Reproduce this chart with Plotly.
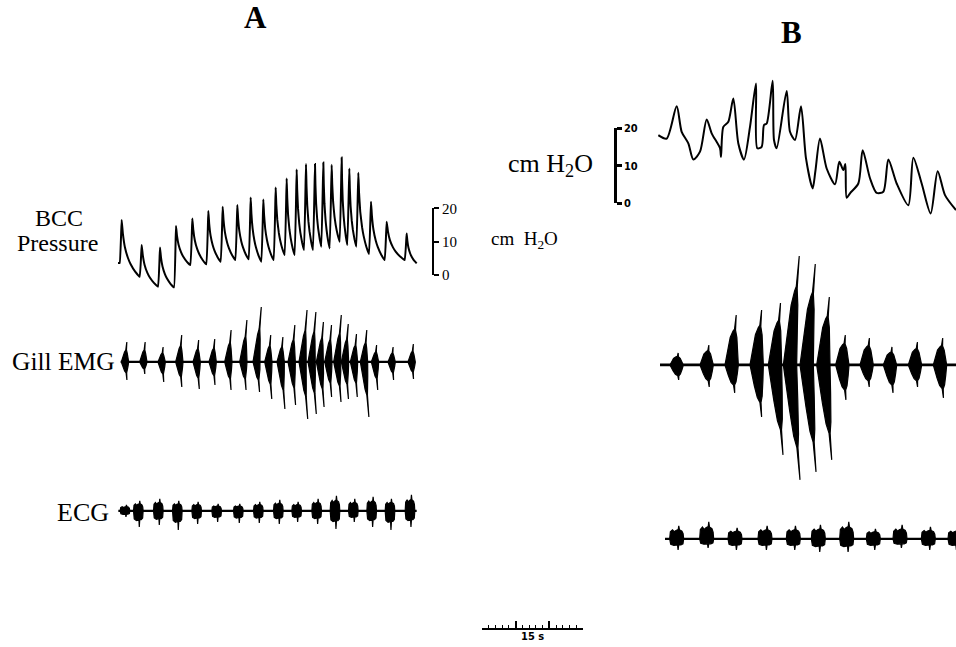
import plotly.graph_objects as go

W, H = 956, 647

# ======================= DATA =======================
# Panel A - buccal cavity (BCC) pressure, cm H2O
a_peak_t = [0.55, 3.55, 6.3, 8.7, 11.15, 13.55, 15.7, 17.9, 19.9, 21.8, 23.65, 25.3,
            26.8, 28.2, 29.55, 30.8, 32.05, 33.55, 34.7, 36.05, 37.95, 40.3, 43.3]
a_peak_p = [16.5, 9.0, 8.3, 14.7, 17.0, 19.2, 20.5, 21.0, 23.3, 22.7, 26.3, 29.0,
            31.7, 33.3, 33.3, 33.8, 33.1, 35.3, 32.0, 30.7, 22.0, 16.0, 12.5]
a_trough_p = [3.6, -0.5, -3.5, -3.7, 3.0, 3.2, 4.0, 4.5, 4.7, 4.0, 4.5, 6.0,
              6.0, 7.5, 7.5, 8.5, 8.0, 10.0, 9.0, 8.5, 6.3, 4.5, 4.5]
a_press_start = [0.0, 3.6]
a_press_end = [44.8, 3.5]

# Panel A - gill EMG bursts: time (s), upward / downward deflection (a.u.)
a_emg_t = [1.05, 3.8, 6.55, 9.2, 11.8, 14.2, 16.55, 18.8, 20.8, 22.55, 24.4, 26.05,
           27.7, 29.05, 30.3, 31.55, 32.9, 34.05, 35.4, 36.9, 38.55, 41.05, 44.05]
a_emg_up = [20, 20, 15, 27, 22, 23, 32, 42, 55, 27, 25, 37,
            52, 50, 40, 37, 47, 38, 28, 32, 17, 15, 18]
a_emg_dn = [18, 12, 20, 25, 27, 23, 28, 28, 30, 37, 47, 43,
            57, 52, 45, 35, 40, 37, 35, 55, 28, 18, 17]
a_emg_span = [0.4, 44.55]

# Panel A - ECG beats
a_ecg_t = [1.05, 3.05, 6.05, 8.9, 11.8, 14.8, 18.05, 21.05, 24.05, 26.8, 29.8,
           32.55, 35.3, 38.05, 40.8, 43.8]
a_ecg_up = [6, 10, 12, 10, 9, 7, 7, 9, 11, 9, 12, 15, 12, 14, 12, 16]
a_ecg_dn = [6, 16, 14, 19, 13, 11, 12, 12, 13, 11, 13, 18, 11, 16, 19, 16]
a_ecg_span = [0.05, 44.8]

# Panel B - BCC pressure trace, cm H2O
b_press_t = [0.05, 1.3, 2.8, 3.55, 4.55, 5.3, 6.3, 7.3, 8.05, 9.3, 9.45, 9.8, 10.55,
             11.3, 12.05, 12.9, 13.8, 14.7, 14.9, 15.55, 15.9, 16.3, 17.2, 17.4, 17.8,
             19.3, 19.8, 20.55, 21.45, 22.2, 23.2, 23.6, 24.3, 25.3, 26.55, 27.2, 27.8,
             28.1, 28.3, 28.8, 30.05, 30.7, 31.8, 32.8, 33.8, 34.55, 35.8, 37.55, 38.3,
             39.55, 40.9, 41.95, 43.05, 44.7]
b_press_p = [18.2, 17.3, 25.9, 19.1, 16.0, 11.7, 13.8, 22.4, 18.7, 14.7, 12.4, 20.4, 21.8,
             28.0, 16.0, 11.7, 20.4, 32.0, 14.7, 15.1, 20.9, 21.3, 32.7, 16.9, 14.7,
             30.0, 19.1, 16.9, 25.9, 12.0, 4.0, 8.5, 17.3, 9.3, 5.1, 11.1, 8.9,
             10.5, 1.5, 2.7, 5.3, 14.2, 6.7, 2.8, 3.1, 11.7, 5.3, -0.5, 12.2,
             5.3, -2.7, 8.6, 2.2, -1.8]

# Panel B - gill EMG bursts
b_emg_t = [2.8, 7.3, 11.05, 14.8, 17.55, 19.8, 22.3, 24.8, 27.65, 31.3, 34.8, 38.55, 42.3]
b_emg_up = [12, 20, 50, 55, 62, 109, 101, 68, 30, 27, 18, 23, 27]
b_emg_dn = [15, 22, 28, 52, 90, 115, 107, 95, 35, 22, 28, 22, 33]
b_emg_span = [0.3, 44.7]

# Panel B - ECG beats
b_ecg_t = [2.8, 7.3, 11.55, 16.05, 20.3, 24.05, 28.3, 32.3, 36.3, 40.55, 44.55]
b_ecg_up = [13, 17, 11, 13, 13, 14, 17, 10, 14, 12, 11]
b_ecg_dn = [11, 9, 11, 11, 11, 13, 13, 11, 9, 11, 11]
b_ecg_span = [1.05, 44.7]

pressure_scale_ticks = [0, 10, 20]
time_bar_length = 15          # s
time_bar_major = [5, 10]      # s

# ======================= HELPERS (style / geometry) =======================
SERIF = "Liberation Serif, Times New Roman, serif"
NARROW = "Liberation Sans Narrow, DejaVu Sans Condensed, sans-serif"
INK = "black"

# the captured page is slightly taller than the figure; compensate vertically
V_OFF, V_SCALE = 7.8, 0.9759


def px_x(px):
    return px / W


def px_y(py):
    return 1 - ((py - V_OFF) / V_SCALE) / H


RISE = 0.3
DECAY_F = [0.0, 0.07, 0.18, 0.35, 0.5, 0.75, 1.0]
DECAY_G = [1.0, 0.75, 0.52, 0.33, 0.22, 0.09, 0.0]


def pressure_wave(peak_t, peak_p, trough_p, start, end):
    xs, ys = [start[0]], [start[1]]
    n = len(peak_t)
    for i in range(n):
        tp, pk = peak_t[i], peak_p[i]
        xs += [tp - RISE, tp]
        ys += [trough_p[i], pk]
        if i + 1 < n:
            te, ve = peak_t[i + 1] - RISE, trough_p[i + 1]
        else:
            te, ve = end
        for f, g in zip(DECAY_F[1:-1], DECAY_G[1:-1]):
            xs.append(tp + f * (te - tp))
            ys.append(ve + g * (pk - ve))
    xs.append(end[0])
    ys.append(end[1])
    return xs, ys


EMG_UP = [(-1, 0), (-0.7, 0.3), (-0.35, 0.5), (-0.05, 0.6), (0.06, 1.0), (0.14, 0.6),
          (0.45, 0.42), (0.75, 0.2), (1, 0)]
EMG_DN = [(1, 0), (0.72, -0.25), (0.42, -0.45), (0.22, -0.6), (0.13, -1.0), (0.05, -0.6),
          (-0.3, -0.5), (-0.7, -0.25), (-1, 0)]
# fuller, blockier bursts for the panel-B EMG
EMGB_UP = [(-1, 0), (-0.8, 0.25), (-0.55, 0.55), (-0.2, 0.68), (0.0, 0.72), (0.08, 1.0),
           (0.16, 0.7), (0.45, 0.55), (0.75, 0.3), (1, 0)]
EMGB_DN = [(1, 0), (0.75, -0.3), (0.45, -0.6), (0.2, -0.72), (0.12, -1.0), (0.04, -0.72),
           (-0.3, -0.62), (-0.6, -0.4), (-0.85, -0.2), (-1, 0)]
ECG_UP = [(-1, 0), (-0.9, 0.55), (-0.6, 0.7), (-0.35, 0.55), (-0.1, 0.65), (0.22, 0.72),
          (0.3, 1.0), (0.4, 0.7), (0.75, 0.6), (0.92, 0.4), (1, 0)]
ECG_DN = [(1, 0), (0.9, -0.45), (0.6, -0.55), (0.3, -0.55), (0.2, -1.0), (0.12, -0.55),
          (-0.4, -0.6), (-0.85, -0.5), (-1, 0)]


def bursts(ts, ups, dns, half_w, up_shape, dn_shape, slant=0.0):
    xs, ys = [], []
    for t, u, d in zip(ts, ups, dns):
        for s, f in up_shape:
            xs.append(t + s * half_w + slant * abs(f * u))
            ys.append(f * u)
        for s, f in dn_shape:
            xs.append(t + s * half_w + slant * abs(f * d))
            ys.append(f * d)
        xs.append(None)
        ys.append(None)
    return xs, ys


fig = go.Figure()


def add_line(x, y, xa, ya, width=2.0, shape="linear", smoothing=None):
    line = dict(color=INK, width=width, shape=shape)
    if smoothing is not None:
        line["smoothing"] = smoothing
    fig.add_trace(go.Scatter(x=x, y=y, mode="lines", line=line, xaxis=xa, yaxis=ya,
                             hoverinfo="skip", showlegend=False))


def add_bursts(x, y, xa, ya):
    fig.add_trace(go.Scatter(x=x, y=y, mode="lines", fill="toself", fillcolor=INK,
                             line=dict(color=INK, width=1.2), xaxis=xa, yaxis=ya,
                             hoverinfo="skip", showlegend=False))


# ---- Panel A traces ----
ax, ay = pressure_wave(a_peak_t, a_peak_p, a_trough_p, a_press_start, a_press_end)
add_line(ax, ay, "x", "y", width=2.0, shape="spline", smoothing=0.3)

add_line(a_emg_span, [0, 0], "x2", "y2", width=2.2)
ex, ey = bursts(a_emg_t, a_emg_up, a_emg_dn, 0.55, EMG_UP, EMG_DN, slant=0.012)
add_bursts(ex, ey, "x2", "y2")

add_line(a_ecg_span, [0, 0], "x3", "y3", width=2.2)
cx, cy = bursts(a_ecg_t, a_ecg_up, a_ecg_dn, 0.72, ECG_UP, ECG_DN)
add_bursts(cx, cy, "x3", "y3")

# ---- Panel B traces ----
add_line(b_press_t, b_press_p, "x4", "y4", width=2.0, shape="spline", smoothing=0.75)

add_line(b_emg_span, [0, 0], "x5", "y5", width=2.8)
bx, by = bursts(b_emg_t, b_emg_up, b_emg_dn, 1.0, EMGB_UP, EMGB_DN, slant=0.012)
add_bursts(bx, by, "x5", "y5")

add_line(b_ecg_span, [0, 0], "x6", "y6", width=2.2)
dx, dy = bursts(b_ecg_t, b_ecg_up, b_ecg_dn, 1.05, ECG_UP, ECG_DN)
add_bursts(dx, dy, "x6", "y6")

# ---- invisible anchors for scale-bar axes ----
for xa, ya in [("x", "y7"), ("x4", "y8"), ("x9", "y9")]:
    fig.add_trace(go.Scatter(x=[None], y=[None], xaxis=xa, yaxis=ya, mode="lines",
                             hoverinfo="skip", showlegend=False))

hidden = dict(visible=False, fixedrange=True)

A_X = [px_x(118), px_x(418)]
B_X = [px_x(658), 1.0]
A_SPAN = 45.0
B_SPAN = 44.7

layout_axes = dict(
    # A pressure: 0 cm at y=275 px, 10 cm = 33.33 px
    xaxis=dict(domain=A_X, range=[0, A_SPAN], anchor="y", **hidden),
    yaxis=dict(domain=[px_y(295), px_y(150)], range=[-6.0, 37.5], anchor="x", **hidden),
    xaxis2=dict(domain=A_X, range=[0, A_SPAN], anchor="y2", **hidden),
    yaxis2=dict(domain=[px_y(432), px_y(292)], range=[-70, 70], anchor="x2", **hidden),
    xaxis3=dict(domain=A_X, range=[0, A_SPAN], anchor="y3", **hidden),
    yaxis3=dict(domain=[px_y(541), px_y(481)], range=[-30, 30], anchor="x3", **hidden),
    # B pressure: 0 cm at y=203.3 px, 10 cm = 37.5 px
    xaxis4=dict(domain=B_X, range=[0, B_SPAN], anchor="y4", **hidden),
    yaxis4=dict(domain=[px_y(222), px_y(70)], range=[-(222 - 203.3) / 3.75, (203.3 - 70) / 3.75],
                anchor="x4", **hidden),
    xaxis5=dict(domain=B_X, range=[0, B_SPAN], anchor="y5", **hidden),
    yaxis5=dict(domain=[px_y(495), px_y(235)], range=[-130, 130], anchor="x5", **hidden),
    xaxis6=dict(domain=B_X, range=[0, B_SPAN], anchor="y6", **hidden),
    yaxis6=dict(domain=[px_y(569), px_y(509)], range=[-30, 30], anchor="x6", **hidden),
    # A pressure calibration bracket
    yaxis7=dict(domain=[px_y(275), px_y(275 - 66.67)], range=[0, 20], anchor="free",
                position=px_x(433), side="right", showline=True, linecolor=INK, linewidth=2,
                ticks="outside", ticklen=5, tickwidth=2, tickcolor=INK,
                tickmode="array", tickvals=pressure_scale_ticks, showgrid=False,
                zeroline=False, fixedrange=True,
                tickfont=dict(family=SERIF, size=15, color=INK)),
    # B pressure calibration bracket
    yaxis8=dict(domain=[px_y(203.3), px_y(128.3)], range=[0, 20], anchor="free",
                position=px_x(615), side="right", showline=True, linecolor=INK, linewidth=2.5,
                ticks="outside", ticklen=5, tickwidth=2.5, tickcolor=INK,
                tickmode="array", tickvals=pressure_scale_ticks, showgrid=False,
                zeroline=False, fixedrange=True,
                tickfont=dict(family=NARROW, size=11, color=INK, weight="bold")),
    # 15 s time bar
    xaxis9=dict(domain=[px_x(482), px_x(583)], range=[0, time_bar_length], anchor="y9",
                showline=True, linecolor=INK, linewidth=1.5, ticks="inside", ticklen=8,
                tickwidth=1.5, tickcolor=INK, tickmode="array", tickvals=time_bar_major,
                showticklabels=False, showgrid=False, zeroline=False, fixedrange=True,
                minor=dict(tickmode="linear", tick0=0, dtick=1, ticks="inside", ticklen=4,
                           tickwidth=1.2, tickcolor=INK, showgrid=False)),
    yaxis9=dict(domain=[px_y(628.5), px_y(612)], range=[0, 1], anchor="x9", **hidden),
)

ann = []


def label(text, x, y, size, weight="normal", xanchor="center", family=SERIF):
    ann.append(dict(text=text, x=px_x(x), y=px_y(y), xref="paper", yref="paper",
                    xanchor=xanchor, yanchor="middle", showarrow=False,
                    font=dict(family=family, size=size, color=INK, weight=weight)))


label("A", 255, 17, 31, weight="bold")
label("B", 791, 32, 31, weight="bold")
label("BCC", 59, 218, 24)
label("Pressure", 57, 243, 24)
label("Gill EMG", 117, 362, 25.5, xanchor="right")
label("ECG", 111, 513, 26, xanchor="right")
label("cm  H<sub>2</sub>O", 524, 240, 19)
label("cm H<sub>2</sub>O", 550, 165, 26)
label("15 s", 532, 637, 11, weight="bold", family=NARROW)

fig.update_layout(
    width=W, height=H, margin=dict(l=0, r=0, t=0, b=0, pad=0),
    paper_bgcolor="white", plot_bgcolor="rgba(0,0,0,0)", showlegend=False,
    annotations=ann, **layout_axes,
)

fig.write_html("out.html", config={"displayModeBar": False},
               post_script="document.body.style.margin='0';document.body.style.overflow='hidden';")
